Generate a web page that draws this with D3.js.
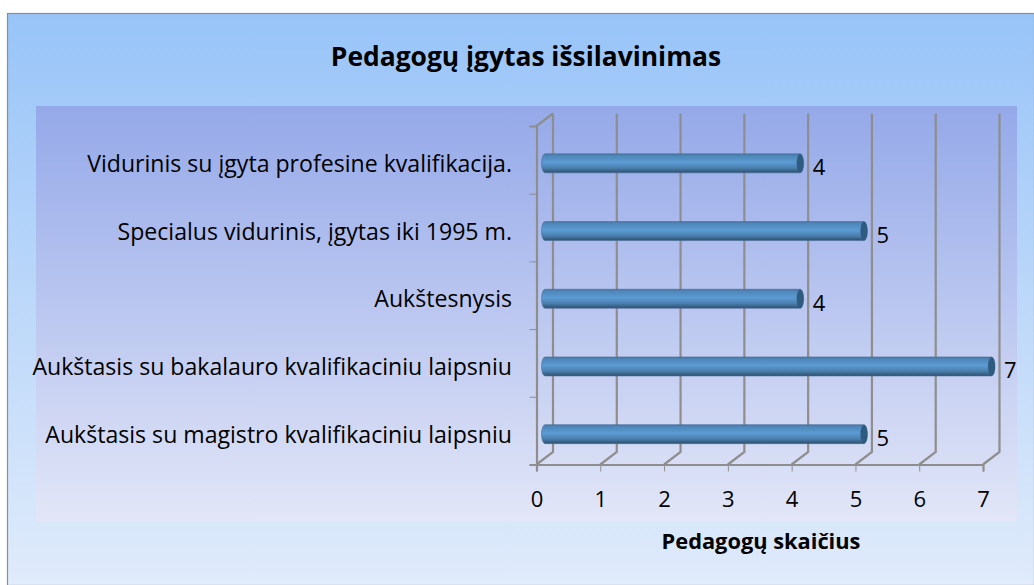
<!DOCTYPE html>
<html lang="en">
<head>
<meta charset="utf-8">
<title>Pedagogų įgytas išsilavinimas</title>
<script src="https://d3js.org/d3.v7.min.js"></script>
<style>
html, body { margin: 0; padding: 0; background: #fff; }
svg { display: block; }
text { font-family: "Open Sans", sans-serif; fill: #000; }
</style>
</head>
<body>
<script>
// data, top to bottom as drawn
var categories = [
  "Vidurinis su įgyta profesine kvalifikacija.",
  "Specialus vidurinis, įgytas iki 1995 m.",
  "Aukštesnysis",
  "Aukštasis su bakalauro kvalifikaciniu laipsniu",
  "Aukštasis su magistro kvalifikaciniu laipsniu"
];
var values = [4, 5, 4, 7, 5];
var xTicks = [0, 1, 2, 3, 4, 5, 6, 7];
var chartTitle = "Pedagogų įgytas išsilavinimas";
var xTitle = "Pedagogų skaičius";

var width = 1034, height = 585;
var plot = {left: 536.5, right: 983, top: 126, bottom: 464.5};
var depth = {x: 16.5, y: -12.5};
var grey = "#8e8e8e";

var svg = d3.select("body").append("svg")
  .attr("width", width)
  .attr("height", height);

var defs = svg.append("defs");

function vGradient(id, stops) {
  var g = defs.append("linearGradient").attr("id", id)
    .attr("x1", 0).attr("y1", 0).attr("x2", 0).attr("y2", 1);
  stops.forEach(function(s) {
    g.append("stop").attr("offset", s[0]).attr("stop-color", s[1]);
  });
}
vGradient("frameFill", [[0, "#98c4f8"], [1, "#e0ebfb"]]);
vGradient("panelFill", [[0, "#95a9e9"], [1, "#e2e6f7"]]);
vGradient("barFill", [[0, "#44749f"], [0.1, "#4e86b9"], [0.45, "#5b9bd3"], [0.75, "#4a7fae"], [1, "#2c4f6e"]]);

// outer frame and inner panel
svg.append("rect")
  .attr("x", 7.5).attr("y", 13.5)
  .attr("width", width - 7).attr("height", height - 13)
  .attr("fill", "url(#frameFill)")
  .attr("stroke", grey).attr("stroke-width", 1.2);

svg.append("rect")
  .attr("x", 36).attr("y", 106)
  .attr("width", 981).attr("height", 416)
  .attr("fill", "url(#panelFill)");

svg.append("text")
  .attr("x", 526).attr("y", 66)
  .attr("text-anchor", "middle")
  .attr("font-size", 26.4)
  .attr("font-weight", 700)
  .text(chartTitle);

// scales
var x = d3.scaleLinear().domain([0, 7]).range([plot.left, plot.right]);
var y = d3.scaleBand().domain(categories).range([plot.top, plot.bottom]);

// back wall grid and floor
var grid = svg.append("g").attr("fill", "none").attr("stroke", grey);
grid.selectAll("path")
  .data(xTicks)
  .enter()
  .append("path")
  .attr("stroke-width", 2.2)
  .attr("d", function(d) {
    var x0 = x(d);
    return "M" + x0 + "," + plot.bottom +
      "L" + (x0 + depth.x) + "," + (plot.bottom + depth.y) +
      "L" + (x0 + depth.x) + "," + (plot.top + depth.y);
  });
grid.append("path")
  .attr("stroke-width", 2.2)
  .attr("d", "M" + plot.left + "," + plot.top + "L" + (plot.left + depth.x) + "," + (plot.top + depth.y));

// axes
var xAxis = d3.axisBottom(x).tickValues(xTicks).tickFormat(d3.format("d")).tickSize(7).tickPadding(20);
var xAxisGroup = svg.append("g")
  .attr("transform", "translate(0," + plot.bottom + ")")
  .call(xAxis);
xAxisGroup.select(".domain").attr("stroke", grey).attr("stroke-width", 2.2);
xAxisGroup.selectAll("line").attr("stroke", grey);
xAxisGroup.selectAll("text").attr("font-size", 22).attr("font-family", "Open Sans");

// y axis ticks sit on the band edges, so draw the line and ticks with a position scale
var yEdge = d3.scaleLinear().domain([0, categories.length]).range([plot.top, plot.bottom]);
var yAxis = d3.axisLeft(yEdge).ticks(categories.length).tickSize(7).tickFormat("");
var yAxisGroup = svg.append("g")
  .attr("transform", "translate(" + plot.left + ",0)")
  .call(yAxis);
yAxisGroup.select(".domain").attr("stroke", grey).attr("stroke-width", 2.2);
yAxisGroup.selectAll("line").attr("stroke", grey);

// category labels
svg.append("g").selectAll("text")
  .data(categories)
  .enter()
  .append("text")
  .attr("x", 512)
  .attr("y", function(d) { return y(d) + y.bandwidth() / 2 + 12; })
  .attr("text-anchor", "end")
  .attr("font-size", 23.1)
  .text(function(d) { return d; });

// cylinders
var barShift = 8.5, barRise = 3.5, barH = 19, capR = 3.5;
var bars = svg.append("g").selectAll("g")
  .data(values)
  .enter()
  .append("g")
  .attr("transform", function(d, i) {
    return "translate(0," + (y(categories[i]) + y.bandwidth() / 2 + barRise) + ")";
  });
bars.append("path")
  .attr("fill", "url(#barFill)")
  .attr("stroke", "#4a6f96")
  .attr("stroke-width", 0.6)
  .attr("d", function(d) {
    var a = x(0) + barShift, b = x(d) + barShift, r = barH / 2;
    return "M" + a + "," + (-r) + "L" + b + "," + (-r) +
      "A" + capR + "," + r + " 0 0 1 " + b + "," + r +
      "L" + a + "," + r +
      "A" + capR + "," + r + " 0 0 1 " + a + "," + (-r) + "Z";
  });
bars.append("ellipse")
  .attr("cx", function(d) { return x(d) + barShift; })
  .attr("rx", capR).attr("ry", barH / 2)
  .attr("fill", "#2f5b80");

// value labels
bars.append("text")
  .attr("x", function(d) { return x(d) + 21; })
  .attr("y", 12)
  .attr("font-size", 22)
  .text(function(d) { return d; });

svg.append("text")
  .attr("x", 761).attr("y", 549)
  .attr("text-anchor", "middle")
  .attr("font-size", 21.8)
  .attr("font-weight", 700)
  .text(xTitle);
</script>
</body>
</html>
